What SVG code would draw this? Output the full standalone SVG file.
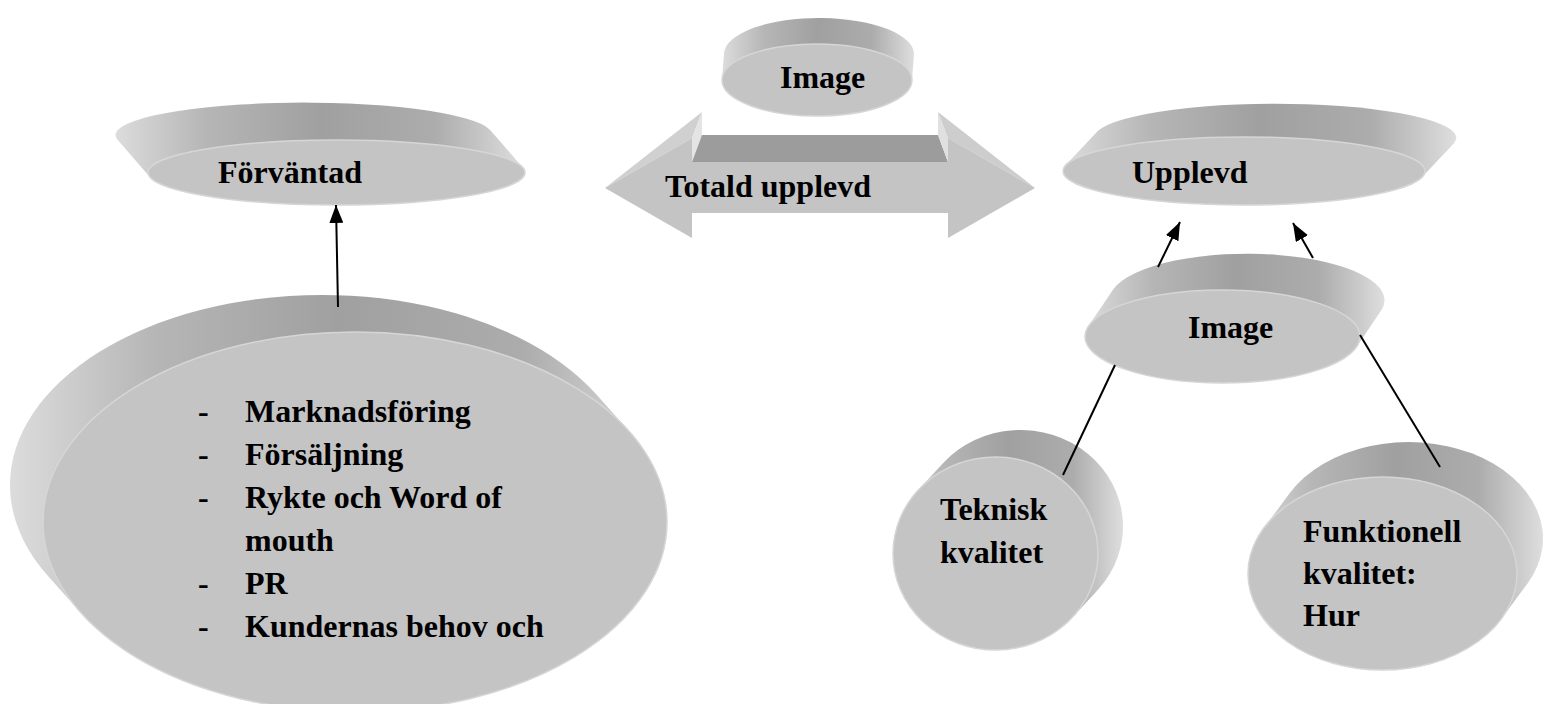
<svg xmlns="http://www.w3.org/2000/svg" width="1545" height="704" viewBox="0 0 1545 704">
<defs>
<linearGradient id="side" x1="0" y1="0" x2="1" y2="0">
<stop offset="0" stop-color="#dcdcdc"/>
<stop offset="0.22" stop-color="#b6b6b6"/>
<stop offset="0.5" stop-color="#a0a0a0"/>
<stop offset="0.78" stop-color="#acacac"/>
<stop offset="1" stop-color="#dedede"/>
</linearGradient>
<marker id="ah" markerUnits="userSpaceOnUse" markerWidth="18" markerHeight="14" refX="18" refY="7" orient="auto">
<path d="M0,0 L18,7 L0,14 z" fill="#000"/>
</marker>
<style>
.side{fill:url(#side);}
.face{fill:#c4c4c4;stroke:#d6d6d6;stroke-width:1.5;}
.lbl{font-family:"Liberation Serif","Times New Roman",serif;font-weight:bold;font-size:32px;fill:#000;}
.con{stroke:#000;stroke-width:2;fill:none;}
</style>
</defs>
<rect width="1545" height="704" fill="#fff"/>

<g id="node-image-top">
<path class="side" d="M 911.96,81.05 L 913.96,55.05 A 95 36 0 0 0 724.04,52.95 L 722.04,78.95 A 95 36 0 0 0 911.96,81.05 Z"/>
<ellipse class="face" cx="817" cy="80" rx="95" ry="36"/>
<text class="lbl" x="780" y="88">Image</text>
</g>

<g id="node-forvantad">
<path class="side" d="M 522.9,167.7 L 489.9,129.7 A 188.5 32.5 0 0 0 117.1,139.3 L 150.1,177.3 A 188.5 32.5 0 0 0 522.9,167.7 Z"/>
<ellipse class="face" cx="336.5" cy="172.5" rx="188.5" ry="32.5"/>
<text class="lbl" x="218" y="183">Förväntad</text>
</g>

<g id="node-totald">
<polygon fill="#d0d0d0" points="605,188 702,112 692,138"/>
<polygon fill="#e4e4e4" points="692,138 702,112 702,135 692,162"/>
<polygon fill="#9c9c9c" points="692,162 702,135 938,135 948,162"/>
<polygon fill="#e0e0e0" points="948,162 938,135 938,112 948,138"/>
<polygon fill="#cdcdcd" points="948,138 938,112 1035,188"/>
<polygon fill="#c4c4c4" points="605,188 692,138 692,162 948,162 948,138 1035,188 948,238 948,213 692,213 692,238"/>
<text class="lbl" x="665" y="197">Totald upplevd</text>
</g>

<g id="node-upplevd">
<path class="side" d="M 1422.2,176.9 L 1454.2,142.9 A 181 34 0 0 0 1097.8,131.1 L 1065.8,165.1 A 181 34 0 0 0 1422.2,176.9 Z"/>
<ellipse class="face" cx="1244" cy="171" rx="181" ry="34"/>
<text class="lbl" x="1132" y="183">Upplevd</text>
</g>

<g id="node-image-right">
<path class="side" d="M 1356.5,346.9 L 1381.5,309.9 A 137.5 46.5 0 0 0 1113.5,289.1 L 1088.5,326.1 A 137.5 46.5 0 0 0 1356.5,346.9 Z"/>
<ellipse class="face" cx="1222.5" cy="336.5" rx="137.5" ry="46.5"/>
<text class="lbl" x="1188" y="338">Image</text>
</g>

<g id="node-teknisk">
<path class="side" d="M 1072.8,616.9 L 1097.8,589.9 A 102.5 96.5 0 0 0 943.2,463.1 L 918.2,490.1 A 102.5 96.5 0 0 0 1072.8,616.9 Z"/>
<ellipse class="face" cx="995.5" cy="553.5" rx="102.5" ry="96.5"/>
<text class="lbl" x="940" y="520">Teknisk</text>
<text class="lbl" x="940" y="563">kvalitet</text>
</g>

<g id="node-funktionell">
<path class="side" d="M 1501.2,618.9 L 1527.2,583.9 A 134.5 96.5 0 0 0 1289.8,493.1 L 1263.8,528.1 A 134.5 96.5 0 0 0 1501.2,618.9 Z"/>
<ellipse class="face" cx="1382.5" cy="573.5" rx="134.5" ry="96.5"/>
<text class="lbl" x="1303" y="542">Funktionell</text>
<text class="lbl" x="1303" y="584">kvalitet:</text>
<text class="lbl" x="1303" y="626">Hur</text>
</g>

<g id="node-faktorer">
<path class="side" d="M 629.2,431.3 L 596.2,394.3 A 312 190 0 0 0 47.8,575.7 L 80.8,612.7 A 312 190 0 0 0 629.2,431.3 Z"/>
<ellipse class="face" cx="355" cy="522" rx="312" ry="190"/>
<text class="lbl" x="198" y="422">-</text>
<text class="lbl" x="245" y="422">Marknadsföring</text>
<text class="lbl" x="198" y="465">-</text>
<text class="lbl" x="245" y="465">Försäljning</text>
<text class="lbl" x="198" y="508">-</text>
<text class="lbl" x="245" y="508">Rykte och Word of</text>
<text class="lbl" x="245" y="551">mouth</text>
<text class="lbl" x="198" y="594">-</text>
<text class="lbl" x="245" y="594">PR</text>
<text class="lbl" x="198" y="637">-</text>
<text class="lbl" x="245" y="637">Kundernas behov och</text>
</g>

<g id="connectors">
<line class="con" x1="338" y1="307" x2="336" y2="205" marker-end="url(#ah)"/>
<line class="con" x1="1158" y1="267" x2="1180" y2="222" marker-end="url(#ah)"/>
<line class="con" x1="1313" y1="258" x2="1293" y2="223" marker-end="url(#ah)"/>
<line class="con" x1="1063" y1="475" x2="1115" y2="365"/>
<line class="con" x1="1360" y1="335" x2="1440" y2="467"/>
</g>
</svg>
